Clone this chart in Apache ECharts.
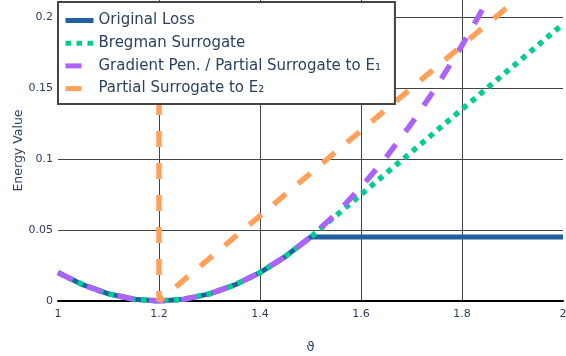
<!DOCTYPE html>
<html>
<head>
<meta charset="utf-8">
<script src="https://cdn.jsdelivr.net/npm/echarts@6/dist/echarts.min.js"></script>
<style>
  html, body { margin: 0; padding: 0; background: #fff; }
  #chart { width: 566px; height: 356px; }
</style>
</head>
<body>
<div id="chart"></div>
<script>
// values
const theta = [1.0, 1.05, 1.1, 1.15, 1.2, 1.25, 1.3, 1.35, 1.4, 1.45, 1.5,
  1.55, 1.6, 1.65, 1.7, 1.75, 1.8, 1.85, 1.9, 1.95, 2.0]
const originalLoss = [0.02, 0.0113, 0.005, 0.0013, 0, 0.0013, 0.005, 0.0113, 0.02, 0.0313, 0.045,
  0.045, 0.045, 0.045, 0.045, 0.045, 0.045, 0.045, 0.045, 0.045, 0.045]
const bregman = [0.02, 0.0113, 0.005, 0.0013, 0, 0.0013, 0.005, 0.0113, 0.02, 0.0313, 0.045,
  0.06, 0.075, 0.09, 0.105, 0.12, 0.135, 0.15, 0.165, 0.18, 0.195]
const gradientPen = [0.02, 0.0113, 0.005, 0.0013, 0, 0.0013, 0.005, 0.0113, 0.02, 0.0313, 0.045,
  0.0613, 0.08, 0.1013, 0.125, 0.1513, 0.18, 0.2113, 0.245, 0.2813, 0.32]
const partialTheta = [1.2, 1.2, 1.3, 1.4, 1.5, 1.6, 1.7, 1.8, 1.9, 2.0]
const partialE2 = [0.3, 0, 0.03, 0.06, 0.09, 0.12, 0.15, 0.18, 0.21, 0.24]

const seriesNames = [
  'Original Loss',
  'Bregman Surrogate',
  'Gradient Pen. / Partial Surrogate to E\u2081',
  'Partial Surrogate to E\u2082',
]

const fontFamily = '"DejaVu Sans", Verdana, sans-serif'
const textColor = '#2a3f5f'
const gridColor = '#444'

const pairs = (xs, ys) => xs.map((x, i) => [x, ys[i]])

const chart = echarts.init(document.getElementById('chart'), null, { renderer: 'canvas' })

chart.setOption({
  animation: false,
  backgroundColor: '#fff',
  grid: {
    left: 58,
    right: 3,
    top: 0,
    bottom: 55,
    containLabel: false,
    outerBoundsMode: 'none',
  },
  legend: {
    orient: 'vertical',
    left: 58,
    top: 2,
    padding: [11, 14, 8, 5],
    itemWidth: 28,
    itemHeight: 14,
    itemGap: 7.7,
    backgroundColor: '#fff',
    borderColor: gridColor,
    borderWidth: 2,
    borderRadius: 0,
    data: seriesNames,
    itemStyle: { opacity: 0 },
    lineStyle: { width: 5 },
    textStyle: {
      color: textColor,
      fontFamily,
      fontSize: 15,
      lineHeight: 15,
    },
  },
  xAxis: {
    type: 'value',
    min: 1,
    max: 2,
    interval: 0.2,
    name: '\u03d1',
    nameLocation: 'middle',
    nameGap: 40,
    nameMoveOverlap: false,
    nameTextStyle: { color: textColor, fontFamily, fontSize: 13 },
    axisLine: { show: true, onZero: false, lineStyle: { color: '#000', width: 2 } },
    axisTick: { show: false },
    axisLabel: { color: textColor, fontFamily, fontSize: 11, margin: 8 },
    splitLine: {
      show: true,
      showMinLine: false,
      showMaxLine: false,
      lineStyle: { color: gridColor, width: 1 },
    },
  },
  yAxis: {
    type: 'value',
    min: 0,
    max: 0.212,
    interval: 0.05,
    name: 'Energy Value',
    nameLocation: 'middle',
    nameGap: 33,
    nameMoveOverlap: false,
    nameTextStyle: { color: textColor, fontFamily, fontSize: 12.5 },
    axisLine: { show: false },
    axisTick: { show: false },
    axisLabel: {
      color: textColor,
      fontFamily,
      fontSize: 11,
      margin: 5,
      showMaxLabel: false,
    },
    splitLine: {
      show: true,
      showMinLine: false,
      showMaxLine: false,
      lineStyle: { color: gridColor, width: 1 },
    },
  },
  series: [
    {
      name: seriesNames[0],
      type: 'line',
      data: pairs(theta, originalLoss),
      symbol: 'none',
      color: '#1f5fa2',
      lineStyle: { width: 5, color: '#1f5fa2' },
    },
    {
      name: seriesNames[1],
      type: 'line',
      data: pairs(theta, bregman),
      symbol: 'none',
      color: '#00cc96',
      lineStyle: { width: 5.5, color: '#00cc96', type: [5.5, 5.5] },
    },
    {
      name: seriesNames[2],
      type: 'line',
      data: pairs(theta, gradientPen),
      symbol: 'none',
      color: '#ab63fa',
      lineStyle: { width: 5.5, color: '#ab63fa', type: [16, 16] },
    },
    {
      name: seriesNames[3],
      type: 'line',
      data: pairs(partialTheta, partialE2),
      symbol: 'none',
      color: '#ffa15a',
      lineStyle: { width: 5.5, color: '#ffa15a', type: [16, 16] },
    },
  ],
})
</script>
</body>
</html>
